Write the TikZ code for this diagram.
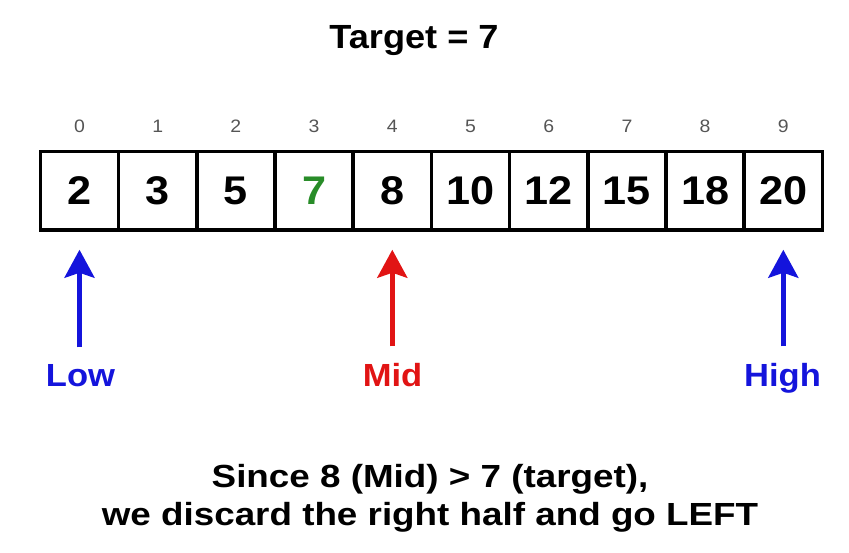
\documentclass[tikz,border=0pt]{standalone}
\usepackage{fontspec}
\setmainfont[FakeStretch=1.08]{Liberation Sans}
\newfontfamily\widefont[FakeStretch=1.15]{Liberation Sans}
\usepackage{tikz}
\usetikzlibrary{arrows.meta,positioning}
\definecolor{lowblue}{RGB}{20,20,220}
\definecolor{midred}{RGB}{225,20,20}
\definecolor{hitgreen}{RGB}{40,140,40}
\definecolor{idxgray}{RGB}{85,85,85}
\tikzset{
cell/.style={draw,line width=3.5pt,minimum width=78.2pt,minimum height=78.5pt,inner sep=0pt,font=\fontsize{40}{48}\selectfont\bfseries},
idx/.style={anchor=base,text=idxgray,font=\fontsize{18}{22}\selectfont},
tag/.style={anchor=base,font=\fontsize{32}{38}\selectfont\bfseries},
ptr/.style={line width=4.5pt,-{Stealth[length=28pt,width=30pt,inset=5pt]},shorten <=14pt,shorten >=18pt}
}

\begin{document}
\begin{tikzpicture}[x=1pt,y=-1pt]
\useasboundingbox (0,0) rectangle (849,553);
\node[anchor=base,font=\fontsize{33.5}{40}\selectfont\bfseries] (title) at (414,49) {Target = 7};
\node[cell] (c0) at (79.5,190.75) {2};
\node[cell] (c1) at (157.7,190.75) {3};
\node[cell] (c2) at (235.9,190.75) {5};
\node[cell,text=hitgreen] (c3) at (314.1,190.75) {7};
\node[cell] (c4) at (392.3,190.75) {8};
\node[cell] (c5) at (470.5,190.75) {10};
\node[cell] (c6) at (548.7,190.75) {12};
\node[cell] (c7) at (626.9,190.75) {15};
\node[cell] (c8) at (705.1,190.75) {18};
\node[cell] (c9) at (783.3,190.75) {20};
\node[idx] (i0) at (79.5,133) {0};
\node[idx] (i1) at (157.7,133) {1};
\node[idx] (i2) at (235.9,133) {2};
\node[idx] (i3) at (314.1,133) {3};
\node[idx] (i4) at (392.3,133) {4};
\node[idx] (i5) at (470.5,133) {5};
\node[idx] (i6) at (548.7,133) {6};
\node[idx] (i7) at (626.9,133) {7};
\node[idx] (i8) at (705.1,133) {8};
\node[idx] (i9) at (783.3,133) {9};
\node[tag,text=lowblue] (low) at (80.5,387) {Low};
\node[tag,text=midred] (mid) at (392.5,387) {Mid};
\node[tag,text=lowblue] (high) at (782.5,387) {High};
\node[align=center,font=\widefont\fontsize{32}{38}\selectfont\bfseries] (note) at (430,498)
{Since 8 (Mid) > 7 (target),\\we discard the right half and go LEFT};
\path[ptr]
(low.north-|c0) edge[lowblue] (c0.south)
(mid.north-|c4) edge[midred] (c4.south)
(high.north-|c9) edge[lowblue] (c9.south);
\end{tikzpicture}
\end{document}
